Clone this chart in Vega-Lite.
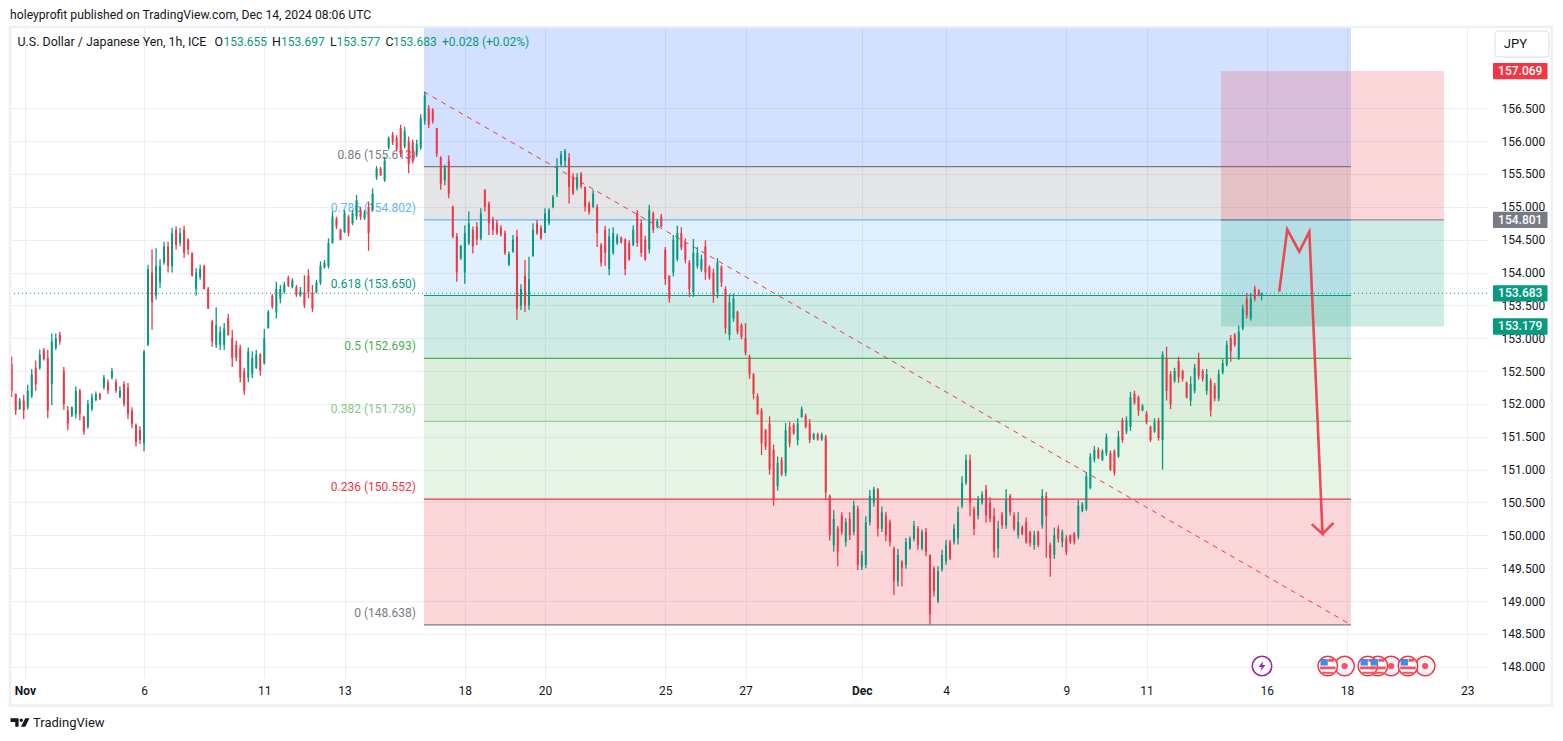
{
"$schema":"https://vega.github.io/schema/vega-lite/v6.json",
"width":1478,"height":651,
"autosize":{"type":"none"},
"padding":{"left":10,"top":27,"right":75,"bottom":63},
"background":"#ffffff",
"title":{"text":"holeyprofit published on TradingView.com, Dec 14, 2024 08:06 UTC","anchor":"start","frame":"group","offset":5,"fontSize":12.2,"fontWeight":"normal","font":"Roboto","color":"#131722"},
"config":{"view":{"stroke":null},"text":{"font":"Roboto"},"axis":{"labelFont":"Roboto"}},
"datasets":{
"fib":[
{"level":"1","t":9.98,"t2":33.1,"p":157.737,"p2":155.613,"label":""},
{"level":"0.86","t":9.98,"t2":33.1,"p":155.613,"p2":154.802,"label":"0.86 (155.613)","lt":9.78},
{"level":"0.786","t":9.98,"t2":33.1,"p":154.802,"p2":153.65,"label":"0.786 (154.802)","lt":9.78},
{"level":"0.618","t":9.98,"t2":33.1,"p":153.65,"p2":152.693,"label":"0.618 (153.650)","lt":9.78},
{"level":"0.5","t":9.98,"t2":33.1,"p":152.693,"p2":151.736,"label":"0.5 (152.693)","lt":9.78},
{"level":"0.382","t":9.98,"t2":33.1,"p":151.736,"p2":150.552,"label":"0.382 (151.736)","lt":9.78},
{"level":"0.236","t":9.98,"t2":33.1,"p":150.552,"p2":148.638,"label":"0.236 (150.552)","lt":9.78},
{"level":"0","t":9.98,"t2":33.1,"p":148.638,"p2":148.638,"label":"0 (148.638)","lt":9.78}
],
"candles":[
{"t":-0.3,"o":152.6,"h":152.72,"l":152.1,"c":152.2},
{"t":-0.2,"o":152.15,"h":152.16,"l":151.83,"c":151.9},
{"t":-0.1,"o":151.92,"h":152.09,"l":151.91,"c":152.05},
{"t":0.0,"o":152.05,"h":152.14,"l":151.77,"c":151.9},
{"t":0.1,"o":151.95,"h":152.29,"l":151.91,"c":152.2},
{"t":0.2,"o":152.12,"h":152.53,"l":152.09,"c":152.45},
{"t":0.3,"o":152.55,"h":152.66,"l":152.2,"c":152.3},
{"t":0.4,"o":152.55,"h":152.83,"l":152.52,"c":152.75},
{"t":0.5,"o":152.82,"h":152.85,"l":152.66,"c":152.68},
{"t":0.6,"o":152.7,"h":152.82,"l":151.78,"c":151.9},
{"t":0.7,"o":152.3,"h":153.07,"l":151.98,"c":152.95},
{"t":0.8,"o":152.85,"h":153.07,"l":152.82,"c":153.0},
{"t":0.9,"o":153.05,"h":153.1,"l":152.9,"c":152.95},
{"t":1.0,"o":152.5,"h":152.56,"l":151.91,"c":152.0},
{"t":1.1,"o":151.9,"h":151.97,"l":151.6,"c":151.7},
{"t":1.2,"o":151.82,"h":151.96,"l":151.8,"c":151.95},
{"t":1.3,"o":151.85,"h":152.27,"l":151.78,"c":152.2},
{"t":1.4,"o":152.2,"h":152.23,"l":151.75,"c":151.85},
{"t":1.5,"o":151.8,"h":151.82,"l":151.53,"c":151.58},
{"t":1.6,"o":151.65,"h":152.06,"l":151.62,"c":152.0},
{"t":1.7,"o":151.92,"h":152.16,"l":151.89,"c":152.1},
{"t":1.8,"o":152.06,"h":152.19,"l":152.04,"c":152.15},
{"t":1.9,"o":152.15,"h":152.17,"l":152.06,"c":152.08},
{"t":2.0,"o":152.25,"h":152.44,"l":152.22,"c":152.4},
{"t":2.1,"o":152.33,"h":152.37,"l":152.15,"c":152.2},
{"t":2.2,"o":152.4,"h":152.55,"l":152.37,"c":152.5},
{"t":2.3,"o":152.33,"h":152.38,"l":152.17,"c":152.2},
{"t":2.4,"o":152.1,"h":152.27,"l":152.09,"c":152.2},
{"t":2.5,"o":152.3,"h":152.34,"l":151.96,"c":152.0},
{"t":2.6,"o":152.25,"h":152.32,"l":151.77,"c":151.85},
{"t":2.7,"o":151.9,"h":151.95,"l":151.63,"c":151.7},
{"t":2.8,"o":151.68,"h":151.7,"l":151.35,"c":151.42},
{"t":2.9,"o":151.6,"h":151.66,"l":151.39,"c":151.45},
{"t":3.0,"o":151.4,"h":152.82,"l":151.28,"c":152.8},
{"t":3.1,"o":152.9,"h":154.12,"l":152.88,"c":154.05},
{"t":3.2,"o":154.0,"h":154.35,"l":153.13,"c":153.55},
{"t":3.3,"o":153.65,"h":154.37,"l":153.59,"c":154.1},
{"t":3.4,"o":153.85,"h":154.2,"l":153.76,"c":154.1},
{"t":3.5,"o":154.15,"h":154.47,"l":154.12,"c":154.4},
{"t":3.6,"o":154.4,"h":154.47,"l":154.0,"c":154.1},
{"t":3.7,"o":154.1,"h":154.68,"l":154.0,"c":154.6},
{"t":3.8,"o":154.65,"h":154.7,"l":154.35,"c":154.42},
{"t":3.9,"o":154.45,"h":154.68,"l":154.4,"c":154.6},
{"t":4.0,"o":154.65,"h":154.71,"l":154.22,"c":154.3},
{"t":4.1,"o":154.5,"h":154.52,"l":154.27,"c":154.35},
{"t":4.2,"o":154.3,"h":154.3,"l":153.94,"c":153.95},
{"t":4.3,"o":153.75,"h":154.07,"l":153.65,"c":154.0},
{"t":4.4,"o":153.93,"h":154.12,"l":153.89,"c":154.05},
{"t":4.5,"o":154.1,"h":154.12,"l":153.74,"c":153.75},
{"t":4.6,"o":153.75,"h":153.78,"l":153.45,"c":153.45},
{"t":4.7,"o":153.25,"h":153.28,"l":152.87,"c":152.95},
{"t":4.8,"o":152.9,"h":153.47,"l":152.85,"c":153.2},
{"t":4.9,"o":152.9,"h":153.18,"l":152.82,"c":153.1},
{"t":5.0,"o":152.9,"h":153.23,"l":152.82,"c":153.15},
{"t":5.1,"o":153.3,"h":153.37,"l":153.04,"c":153.05},
{"t":5.2,"o":153.0,"h":153.13,"l":152.56,"c":152.7},
{"t":5.3,"o":152.9,"h":152.96,"l":152.65,"c":152.7},
{"t":5.4,"o":152.85,"h":152.9,"l":152.33,"c":152.4},
{"t":5.5,"o":152.5,"h":152.55,"l":152.14,"c":152.2},
{"t":5.6,"o":152.4,"h":152.86,"l":152.33,"c":152.8},
{"t":5.7,"o":152.45,"h":152.8,"l":152.39,"c":152.7},
{"t":5.8,"o":152.55,"h":152.82,"l":152.53,"c":152.75},
{"t":5.9,"o":152.75,"h":152.77,"l":152.43,"c":152.5},
{"t":6.0,"o":152.62,"h":153.14,"l":152.6,"c":153.0},
{"t":6.1,"o":153.15,"h":153.43,"l":153.15,"c":153.4},
{"t":6.2,"o":153.65,"h":153.67,"l":153.45,"c":153.48},
{"t":6.3,"o":153.4,"h":153.86,"l":153.3,"c":153.75},
{"t":6.4,"o":153.6,"h":153.81,"l":153.53,"c":153.75},
{"t":6.5,"o":153.7,"h":153.86,"l":153.68,"c":153.82},
{"t":6.6,"o":153.92,"h":153.95,"l":153.78,"c":153.8},
{"t":6.7,"o":153.78,"h":153.91,"l":153.76,"c":153.88},
{"t":6.8,"o":153.78,"h":153.81,"l":153.63,"c":153.66},
{"t":6.9,"o":153.65,"h":153.78,"l":153.63,"c":153.72},
{"t":7.0,"o":153.7,"h":153.96,"l":153.46,"c":153.5},
{"t":7.1,"o":153.95,"h":154.05,"l":153.61,"c":153.7},
{"t":7.2,"o":153.7,"h":153.81,"l":153.4,"c":153.45},
{"t":7.3,"o":153.7,"h":153.89,"l":153.68,"c":153.85},
{"t":7.4,"o":153.85,"h":154.17,"l":153.81,"c":154.1},
{"t":7.5,"o":154.08,"h":154.19,"l":154.06,"c":154.15},
{"t":7.6,"o":154.1,"h":154.52,"l":154.06,"c":154.45},
{"t":7.7,"o":154.45,"h":154.93,"l":154.44,"c":154.85},
{"t":7.8,"o":154.82,"h":154.85,"l":154.66,"c":154.7},
{"t":7.9,"o":154.65,"h":154.67,"l":154.49,"c":154.5},
{"t":8.0,"o":154.62,"h":154.95,"l":154.6,"c":154.9},
{"t":8.1,"o":154.85,"h":154.88,"l":154.55,"c":154.6},
{"t":8.2,"o":154.75,"h":154.95,"l":154.72,"c":154.9},
{"t":8.3,"o":154.85,"h":155.18,"l":154.8,"c":155.1},
{"t":8.4,"o":154.95,"h":155.0,"l":154.8,"c":154.85},
{"t":8.5,"o":154.82,"h":154.95,"l":154.8,"c":154.92},
{"t":8.6,"o":155.0,"h":155.08,"l":154.33,"c":154.6},
{"t":8.7,"o":154.95,"h":155.28,"l":154.93,"c":155.2},
{"t":8.8,"o":155.45,"h":155.62,"l":155.41,"c":155.58},
{"t":8.9,"o":155.58,"h":155.61,"l":155.47,"c":155.48},
{"t":9.0,"o":155.4,"h":155.76,"l":155.38,"c":155.7},
{"t":9.1,"o":155.9,"h":156.07,"l":155.87,"c":156.05},
{"t":9.2,"o":156.1,"h":156.14,"l":155.94,"c":155.98},
{"t":9.3,"o":156.05,"h":156.09,"l":155.84,"c":155.88},
{"t":9.4,"o":156.2,"h":156.25,"l":155.76,"c":155.8},
{"t":9.5,"o":155.92,"h":156.22,"l":155.89,"c":156.15},
{"t":9.6,"o":156.0,"h":156.07,"l":155.51,"c":155.65},
{"t":9.7,"o":155.98,"h":156.02,"l":155.66,"c":155.7},
{"t":9.8,"o":155.8,"h":156.02,"l":155.76,"c":155.95},
{"t":9.9,"o":155.9,"h":156.41,"l":155.87,"c":156.35},
{"t":10.0,"o":156.3,"h":156.75,"l":156.25,"c":156.7},
{"t":10.1,"o":156.5,"h":156.55,"l":156.2,"c":156.25},
{"t":10.2,"o":156.48,"h":156.5,"l":156.27,"c":156.3},
{"t":10.3,"o":156.2,"h":156.2,"l":155.76,"c":155.8},
{"t":10.4,"o":155.75,"h":155.77,"l":155.26,"c":155.35},
{"t":10.5,"o":155.4,"h":155.64,"l":155.33,"c":155.6},
{"t":10.6,"o":155.7,"h":155.78,"l":155.13,"c":155.2},
{"t":10.7,"o":155.0,"h":155.02,"l":154.52,"c":154.55},
{"t":10.8,"o":154.55,"h":154.6,"l":153.86,"c":154.0},
{"t":10.9,"o":154.22,"h":154.42,"l":154.19,"c":154.4},
{"t":11.0,"o":154.0,"h":154.72,"l":153.83,"c":154.6},
{"t":11.1,"o":154.45,"h":154.93,"l":154.42,"c":154.75},
{"t":11.2,"o":154.65,"h":154.7,"l":154.29,"c":154.4},
{"t":11.3,"o":154.7,"h":154.77,"l":154.42,"c":154.5},
{"t":11.4,"o":154.52,"h":154.98,"l":154.49,"c":154.9},
{"t":11.5,"o":155.25,"h":155.27,"l":154.93,"c":155.0},
{"t":11.6,"o":155.05,"h":155.08,"l":154.57,"c":154.75},
{"t":11.7,"o":154.8,"h":154.85,"l":154.57,"c":154.65},
{"t":11.8,"o":154.75,"h":154.8,"l":154.57,"c":154.6},
{"t":11.9,"o":154.68,"h":154.72,"l":154.55,"c":154.58},
{"t":12.0,"o":154.6,"h":154.64,"l":154.27,"c":154.3},
{"t":12.1,"o":154.12,"h":154.32,"l":154.1,"c":154.28},
{"t":12.2,"o":154.32,"h":154.57,"l":154.3,"c":154.5},
{"t":12.3,"o":154.55,"h":154.65,"l":153.28,"c":153.45},
{"t":12.4,"o":153.5,"h":153.82,"l":153.43,"c":153.75},
{"t":12.5,"o":153.95,"h":154.19,"l":153.4,"c":153.5},
{"t":12.6,"o":153.5,"h":154.24,"l":153.43,"c":153.9},
{"t":12.7,"o":154.25,"h":154.75,"l":154.24,"c":154.65},
{"t":12.8,"o":154.75,"h":154.8,"l":154.57,"c":154.6},
{"t":12.9,"o":154.68,"h":154.72,"l":154.5,"c":154.52},
{"t":13.0,"o":154.6,"h":154.98,"l":154.6,"c":154.9},
{"t":13.1,"o":154.75,"h":154.98,"l":154.72,"c":154.95},
{"t":13.2,"o":155.0,"h":155.18,"l":154.98,"c":155.15},
{"t":13.3,"o":155.2,"h":155.74,"l":155.15,"c":155.6},
{"t":13.4,"o":155.65,"h":155.85,"l":155.61,"c":155.8},
{"t":13.5,"o":155.7,"h":155.88,"l":155.61,"c":155.85},
{"t":13.6,"o":155.75,"h":155.82,"l":155.05,"c":155.3},
{"t":13.7,"o":155.45,"h":155.51,"l":155.18,"c":155.2},
{"t":13.8,"o":155.28,"h":155.51,"l":155.25,"c":155.45},
{"t":13.9,"o":155.5,"h":155.53,"l":155.28,"c":155.32},
{"t":14.0,"o":155.3,"h":155.31,"l":154.93,"c":155.0},
{"t":14.1,"o":155.05,"h":155.08,"l":154.88,"c":154.92},
{"t":14.2,"o":155.0,"h":155.26,"l":154.98,"c":155.2},
{"t":14.3,"o":155.0,"h":155.04,"l":154.39,"c":154.6},
{"t":14.4,"o":154.42,"h":154.45,"l":154.09,"c":154.15},
{"t":14.5,"o":154.65,"h":154.71,"l":154.1,"c":154.3},
{"t":14.6,"o":154.05,"h":154.67,"l":153.96,"c":154.55},
{"t":14.7,"o":154.3,"h":154.69,"l":154.27,"c":154.6},
{"t":14.8,"o":154.45,"h":154.59,"l":154.42,"c":154.55},
{"t":14.9,"o":154.53,"h":154.55,"l":154.44,"c":154.46},
{"t":15.0,"o":154.5,"h":154.52,"l":153.96,"c":154.05},
{"t":15.1,"o":154.45,"h":154.49,"l":154.18,"c":154.2},
{"t":15.2,"o":154.42,"h":154.72,"l":154.4,"c":154.65},
{"t":15.3,"o":154.9,"h":154.95,"l":154.39,"c":154.45},
{"t":15.4,"o":154.75,"h":154.81,"l":154.24,"c":154.3},
{"t":15.5,"o":154.5,"h":154.56,"l":154.18,"c":154.2},
{"t":15.6,"o":154.35,"h":155.03,"l":154.29,"c":154.95},
{"t":15.7,"o":154.9,"h":154.93,"l":154.6,"c":154.65},
{"t":15.8,"o":154.7,"h":154.82,"l":154.67,"c":154.78},
{"t":15.9,"o":154.85,"h":154.89,"l":154.69,"c":154.7},
{"t":16.0,"o":154.35,"h":154.39,"l":153.81,"c":153.9},
{"t":16.1,"o":153.95,"h":153.96,"l":153.54,"c":153.6},
{"t":16.2,"o":154.0,"h":154.57,"l":153.94,"c":154.5},
{"t":16.3,"o":154.2,"h":154.71,"l":154.17,"c":154.6},
{"t":16.4,"o":154.6,"h":154.69,"l":154.34,"c":154.38},
{"t":16.5,"o":154.45,"h":154.52,"l":154.14,"c":154.2},
{"t":16.6,"o":154.15,"h":154.19,"l":153.63,"c":153.75},
{"t":16.7,"o":153.7,"h":154.51,"l":153.63,"c":154.3},
{"t":16.8,"o":154.1,"h":154.39,"l":154.06,"c":154.3},
{"t":16.9,"o":154.05,"h":154.27,"l":154.01,"c":154.2},
{"t":17.0,"o":154.4,"h":154.49,"l":153.89,"c":154.0},
{"t":17.1,"o":154.08,"h":154.11,"l":153.89,"c":153.92},
{"t":17.2,"o":154.0,"h":154.06,"l":153.54,"c":153.65},
{"t":17.3,"o":153.7,"h":154.22,"l":153.61,"c":154.15},
{"t":17.4,"o":154.08,"h":154.11,"l":153.78,"c":153.85},
{"t":17.5,"o":153.75,"h":153.79,"l":153.07,"c":153.15},
{"t":17.6,"o":153.05,"h":153.67,"l":152.97,"c":153.55},
{"t":17.7,"o":153.3,"h":153.68,"l":153.25,"c":153.6},
{"t":17.8,"o":153.4,"h":153.42,"l":153.06,"c":153.1},
{"t":17.9,"o":153.2,"h":153.23,"l":152.98,"c":153.02},
{"t":18.0,"o":153.0,"h":153.23,"l":152.74,"c":152.78},
{"t":18.1,"o":152.72,"h":152.75,"l":152.38,"c":152.45},
{"t":18.2,"o":152.45,"h":152.47,"l":152.07,"c":152.15},
{"t":18.3,"o":152.12,"h":152.16,"l":151.83,"c":151.85},
{"t":18.4,"o":151.9,"h":151.94,"l":151.22,"c":151.4},
{"t":18.5,"o":151.6,"h":151.62,"l":151.3,"c":151.35},
{"t":18.6,"o":151.7,"h":151.81,"l":150.92,"c":151.0},
{"t":18.7,"o":151.3,"h":151.38,"l":150.45,"c":150.55},
{"t":18.8,"o":150.75,"h":151.2,"l":150.68,"c":151.1},
{"t":18.9,"o":151.15,"h":151.19,"l":150.9,"c":150.93},
{"t":19.0,"o":150.95,"h":151.71,"l":150.9,"c":151.6},
{"t":19.1,"o":151.65,"h":151.73,"l":151.34,"c":151.4},
{"t":19.2,"o":151.68,"h":151.71,"l":151.53,"c":151.55},
{"t":19.3,"o":151.45,"h":151.78,"l":151.37,"c":151.7},
{"t":19.4,"o":151.8,"h":151.96,"l":151.79,"c":151.92},
{"t":19.5,"o":151.82,"h":151.85,"l":151.63,"c":151.65},
{"t":19.6,"o":151.7,"h":151.77,"l":151.4,"c":151.45},
{"t":19.7,"o":151.47,"h":151.56,"l":151.45,"c":151.54},
{"t":19.8,"o":151.54,"h":151.56,"l":151.44,"c":151.46},
{"t":19.9,"o":151.46,"h":151.56,"l":151.44,"c":151.53},
{"t":20.0,"o":151.5,"h":151.53,"l":150.54,"c":150.65},
{"t":20.1,"o":150.6,"h":150.62,"l":149.92,"c":150.0},
{"t":20.2,"o":149.85,"h":150.38,"l":149.75,"c":150.25},
{"t":20.3,"o":150.1,"h":150.14,"l":149.53,"c":149.75},
{"t":20.4,"o":150.3,"h":150.35,"l":150.01,"c":150.05},
{"t":20.5,"o":149.9,"h":150.26,"l":149.83,"c":150.2},
{"t":20.6,"o":150.25,"h":150.35,"l":149.93,"c":150.0},
{"t":20.7,"o":150.05,"h":150.53,"l":150.0,"c":150.45},
{"t":20.8,"o":150.4,"h":150.45,"l":149.47,"c":149.55},
{"t":20.9,"o":149.52,"h":149.76,"l":149.47,"c":149.7},
{"t":21.0,"o":149.55,"h":150.29,"l":149.5,"c":150.2},
{"t":21.1,"o":150.2,"h":150.69,"l":150.15,"c":150.6},
{"t":21.2,"o":150.5,"h":150.74,"l":150.44,"c":150.7},
{"t":21.3,"o":150.7,"h":150.72,"l":149.98,"c":150.1},
{"t":21.4,"o":150.1,"h":150.44,"l":150.05,"c":150.35},
{"t":21.5,"o":150.3,"h":150.36,"l":149.91,"c":150.0},
{"t":21.6,"o":150.2,"h":150.24,"l":149.83,"c":149.9},
{"t":21.7,"o":149.8,"h":149.83,"l":149.09,"c":149.3},
{"t":21.8,"o":149.3,"h":149.79,"l":149.22,"c":149.7},
{"t":21.9,"o":149.6,"h":149.62,"l":149.22,"c":149.5},
{"t":22.0,"o":149.55,"h":149.96,"l":149.49,"c":149.9},
{"t":22.1,"o":149.8,"h":149.98,"l":149.78,"c":149.95},
{"t":22.2,"o":149.95,"h":150.22,"l":149.91,"c":150.15},
{"t":22.3,"o":150.1,"h":150.14,"l":149.78,"c":149.85},
{"t":22.4,"o":149.8,"h":150.09,"l":149.77,"c":150.05},
{"t":22.5,"o":150.05,"h":150.11,"l":149.68,"c":149.75},
{"t":22.6,"o":149.7,"h":149.71,"l":148.64,"c":148.8},
{"t":22.7,"o":149.5,"h":149.53,"l":149.07,"c":149.15},
{"t":22.8,"o":149.0,"h":149.53,"l":148.97,"c":149.45},
{"t":22.9,"o":149.48,"h":149.78,"l":149.45,"c":149.7},
{"t":23.0,"o":149.6,"h":149.93,"l":149.55,"c":149.85},
{"t":23.1,"o":149.9,"h":149.93,"l":149.62,"c":149.65},
{"t":23.2,"o":149.9,"h":150.17,"l":149.86,"c":150.1},
{"t":23.3,"o":149.95,"h":150.44,"l":149.86,"c":150.35},
{"t":23.4,"o":150.45,"h":150.9,"l":150.41,"c":150.8},
{"t":23.5,"o":150.8,"h":151.23,"l":150.77,"c":151.15},
{"t":23.6,"o":151.15,"h":151.23,"l":150.29,"c":150.5},
{"t":23.7,"o":150.4,"h":150.44,"l":150.0,"c":150.1},
{"t":23.8,"o":150.3,"h":150.6,"l":150.24,"c":150.55},
{"t":23.9,"o":150.5,"h":150.67,"l":150.47,"c":150.62},
{"t":24.0,"o":150.7,"h":150.77,"l":150.19,"c":150.3},
{"t":24.1,"o":150.5,"h":150.58,"l":150.2,"c":150.25},
{"t":24.2,"o":150.3,"h":150.42,"l":149.66,"c":149.75},
{"t":24.3,"o":149.8,"h":150.22,"l":149.66,"c":150.1},
{"t":24.4,"o":150.32,"h":150.36,"l":150.1,"c":150.15},
{"t":24.5,"o":150.15,"h":150.7,"l":150.1,"c":150.55},
{"t":24.6,"o":150.6,"h":150.63,"l":150.3,"c":150.35},
{"t":24.7,"o":150.3,"h":150.35,"l":150.07,"c":150.1},
{"t":24.8,"o":150.0,"h":150.35,"l":149.95,"c":150.2},
{"t":24.9,"o":150.12,"h":150.15,"l":150.0,"c":150.02},
{"t":25.0,"o":150.2,"h":150.27,"l":149.87,"c":149.9},
{"t":25.1,"o":150.05,"h":150.07,"l":149.83,"c":149.88},
{"t":25.2,"o":149.85,"h":150.07,"l":149.78,"c":150.0},
{"t":25.3,"o":150.05,"h":150.07,"l":149.82,"c":149.85},
{"t":25.4,"o":150.15,"h":150.7,"l":150.1,"c":150.6},
{"t":25.5,"o":150.6,"h":150.66,"l":149.66,"c":150.3},
{"t":25.6,"o":149.85,"h":149.89,"l":149.37,"c":149.65},
{"t":25.7,"o":149.7,"h":150.12,"l":149.64,"c":150.0},
{"t":25.8,"o":150.1,"h":150.15,"l":149.89,"c":149.95},
{"t":25.9,"o":149.9,"h":150.09,"l":149.82,"c":150.05},
{"t":26.0,"o":149.95,"h":150.0,"l":149.7,"c":149.75},
{"t":26.1,"o":150.0,"h":150.01,"l":149.87,"c":149.9},
{"t":26.2,"o":150.02,"h":150.05,"l":149.86,"c":149.9},
{"t":26.3,"o":149.98,"h":150.54,"l":149.94,"c":150.45},
{"t":26.4,"o":150.37,"h":150.5,"l":150.35,"c":150.47},
{"t":26.5,"o":150.4,"h":150.96,"l":150.37,"c":150.9},
{"t":26.6,"o":150.72,"h":151.25,"l":150.7,"c":151.2},
{"t":26.7,"o":151.15,"h":151.36,"l":151.11,"c":151.3},
{"t":26.8,"o":151.3,"h":151.34,"l":151.16,"c":151.18},
{"t":26.9,"o":151.15,"h":151.31,"l":151.13,"c":151.28},
{"t":27.0,"o":151.25,"h":151.55,"l":151.21,"c":151.5},
{"t":27.1,"o":151.25,"h":151.29,"l":150.98,"c":151.0},
{"t":27.2,"o":151.28,"h":151.31,"l":150.91,"c":150.95},
{"t":27.3,"o":151.2,"h":151.59,"l":151.18,"c":151.5},
{"t":27.4,"o":151.75,"h":151.79,"l":151.41,"c":151.45},
{"t":27.5,"o":151.58,"h":151.81,"l":151.54,"c":151.75},
{"t":27.6,"o":151.65,"h":152.18,"l":151.59,"c":152.1},
{"t":27.7,"o":152.15,"h":152.2,"l":151.99,"c":152.02},
{"t":27.8,"o":152.1,"h":152.13,"l":151.82,"c":151.9},
{"t":27.9,"o":151.9,"h":152.0,"l":151.89,"c":151.97},
{"t":28.0,"o":151.85,"h":151.89,"l":151.69,"c":151.72},
{"t":28.1,"o":151.65,"h":151.67,"l":151.42,"c":151.45},
{"t":28.2,"o":151.58,"h":151.78,"l":151.56,"c":151.72},
{"t":28.3,"o":151.75,"h":151.79,"l":151.44,"c":151.48},
{"t":28.4,"o":151.45,"h":152.8,"l":151.0,"c":152.75},
{"t":28.5,"o":152.7,"h":152.87,"l":152.05,"c":152.2},
{"t":28.6,"o":152.45,"h":152.5,"l":151.92,"c":152.0},
{"t":28.7,"o":152.35,"h":152.55,"l":152.32,"c":152.5},
{"t":28.8,"o":152.65,"h":152.72,"l":152.32,"c":152.4},
{"t":28.9,"o":152.5,"h":152.52,"l":152.34,"c":152.38},
{"t":29.0,"o":152.32,"h":152.34,"l":152.08,"c":152.1},
{"t":29.1,"o":152.05,"h":152.42,"l":151.97,"c":152.3},
{"t":29.2,"o":152.2,"h":152.61,"l":152.16,"c":152.55},
{"t":29.3,"o":152.7,"h":152.78,"l":152.37,"c":152.42},
{"t":29.4,"o":152.5,"h":152.53,"l":152.34,"c":152.38},
{"t":29.5,"o":152.2,"h":152.53,"l":152.14,"c":152.45},
{"t":29.6,"o":152.35,"h":152.39,"l":151.81,"c":151.9},
{"t":29.7,"o":152.28,"h":152.32,"l":152.04,"c":152.08},
{"t":29.8,"o":152.08,"h":152.52,"l":152.04,"c":152.45},
{"t":29.9,"o":152.48,"h":152.68,"l":152.45,"c":152.62},
{"t":30.0,"o":152.6,"h":152.96,"l":152.57,"c":152.9},
{"t":30.1,"o":153.0,"h":153.05,"l":152.64,"c":152.8},
{"t":30.2,"o":153.05,"h":153.08,"l":152.87,"c":152.9},
{"t":30.3,"o":152.7,"h":153.19,"l":152.67,"c":153.1},
{"t":30.4,"o":153.15,"h":153.51,"l":153.12,"c":153.45},
{"t":30.5,"o":153.6,"h":153.69,"l":153.3,"c":153.35},
{"t":30.6,"o":153.3,"h":153.69,"l":153.27,"c":153.6},
{"t":30.7,"o":153.75,"h":153.8,"l":153.56,"c":153.6},
{"t":30.8,"o":153.72,"h":153.75,"l":153.64,"c":153.65},
{"t":30.87,"o":153.655,"h":153.697,"l":153.577,"c":153.683}
]
},
"encoding":{
"x":{"field":"t","type":"quantitative","title":null,"scale":{"domain":[-0.342,36.516],"nice":false,"zero":false},
"axis":{"values":[0.03,3,6,8,11,13,16,18,20.9,23,26,28,31,33,36],"labelExpr":"({'0.03':'Nov','3':'6','6':'11','8':'13','11':'18','13':'20','16':'25','18':'27','20.9':'Dec','23':'4','26':'9','28':'11','31':'16','33':'18','36':'23'})[datum.value]","labelFontWeight":{"condition":{"test":"datum.value==0.03||datum.value==20.9","value":"bold"},"value":"normal"},"labelFontSize":12,"labelColor":"#131722","labelPadding":7,"labelOverlap":false,"labelFlush":false,"labelBound":false,"domain":false,"ticks":false,"grid":true,"gridColor":"#eceef4","gridWidth":1}},
"y":{"field":"p","type":"quantitative","title":null,"scale":{"domain":[147.828,157.737],"nice":false,"zero":false},
"axis":{"orient":"right","values":[148,148.5,149,149.5,150,150.5,151,151.5,152,152.5,153,153.5,154,154.5,155,155.5,156,156.5],"format":".3f","labelFontSize":12,"labelColor":"#131722","labelPadding":13,"labelOverlap":false,"labelBound":false,"domain":false,"ticks":false,"grid":true,"gridColor":"#eceef4","gridWidth":1}}
},
"layer":[
{"data":{"name":"fib"},"mark":{"type":"rect","fillOpacity":0.2},"encoding":{"x2":{"field":"t2"},"y2":{"field":"p2"},
"color":{"field":"level","type":"nominal","legend":null,"scale":{"domain":["1","0.86","0.786","0.618","0.5","0.382","0.236","0"],"range":["#2962ff","#787b86","#64b5f6","#089981","#4caf50","#81c784","#f23645","#787b86"]}}}},
{"data":{"name":"fib"},"transform":[{"filter":"datum.level!='1'"}],"mark":{"type":"rule","strokeWidth":1.2},"encoding":{"x2":{"field":"t2"},
"color":{"field":"level","type":"nominal","legend":null,"scale":{"domain":["1","0.86","0.786","0.618","0.5","0.382","0.236","0"],"range":["#2962ff","#787b86","#64b5f6","#089981","#4caf50","#81c784","#f23645","#787b86"]}}}},
{"data":{"name":"fib"},"transform":[{"filter":"datum.level!='1'"}],"mark":{"type":"text","align":"right","dy":-12,"fontSize":12},"encoding":{"x":{"field":"lt","type":"quantitative"},"text":{"field":"label"},
"color":{"field":"level","type":"nominal","legend":null,"scale":{"domain":["1","0.86","0.786","0.618","0.5","0.382","0.236","0"],"range":["#2962ff","#787b86","#64b5f6","#089981","#4caf50","#81c784","#f23645","#787b86"]}}}},
{"data":{"values":[{"t":29.86,"t2":35.42,"p":157.069,"p2":154.801}]},"mark":{"type":"rect","color":"#f23645","fillOpacity":0.2},"encoding":{"x2":{"field":"t2"},"y2":{"field":"p2"}}},
{"data":{"values":[{"t":29.86,"t2":35.42,"p":154.801,"p2":153.179}]},"mark":{"type":"rect","color":"#089981","fillOpacity":0.2},"encoding":{"x2":{"field":"t2"},"y2":{"field":"p2"}}},
{"data":{"values":[{"t":29.86,"t2":35.42,"p":154.801}]},"mark":{"type":"rule","color":"#787b86","strokeWidth":1},"encoding":{"x2":{"field":"t2"}}},
{"data":{"values":[{"t":-0.342,"t2":36.516,"p":153.683}]},"mark":{"type":"rule","color":"#089981","strokeWidth":1,"strokeDash":[1,3]},"encoding":{"x2":{"field":"t2"}}},
{"data":{"values":[{"t":9.98,"p":156.75},{"t":33.1,"p":148.638}]},"mark":{"type":"line","color":"#f23645","strokeWidth":1,"strokeDash":[5,5]}},
{"data":{"name":"candles"},"mark":{"type":"rule","strokeWidth":1.3},"encoding":{"y":{"field":"l","type":"quantitative","axis":{"orient":"right","title":null,"values":[148,148.5,149,149.5,150,150.5,151,151.5,152,152.5,153,153.5,154,154.5,155,155.5,156,156.5]},"scale":{"domain":[147.828,157.737],"nice":false,"zero":false}},"y2":{"field":"h"},"color":{"condition":{"test":"datum.c>=datum.o","value":"#089981"},"value":"#f23645"}}},
{"data":{"name":"candles"},"mark":{"type":"rule","strokeWidth":2},"encoding":{"y":{"field":"o","type":"quantitative","axis":{"orient":"right","title":null,"values":[148,148.5,149,149.5,150,150.5,151,151.5,152,152.5,153,153.5,154,154.5,155,155.5,156,156.5]},"scale":{"domain":[147.828,157.737],"nice":false,"zero":false}},"y2":{"field":"c"},"color":{"condition":{"test":"datum.c>=datum.o","value":"#089981"},"value":"#f23645"}}},
{"data":{"values":[{"i":1,"t":31.31,"p":153.708},{"i":2,"t":31.51,"p":154.657},{"i":3,"t":31.81,"p":154.317},{"i":4,"t":32.06,"p":154.621},{"i":5,"t":32.39,"p":150.02},{"i":6,"t":32.12,"p":150.17},{"i":7,"t":32.39,"p":150.02},{"i":8,"t":32.66,"p":150.19}]},"mark":{"type":"line","color":"#f23645","strokeWidth":2.6,"opacity":0.9},"encoding":{"order":{"field":"i"}}},
{"data":{"values":[{"t":30.88,"p":148.01}]},"mark":{"type":"point","filled":true,"size":380,"shape":"circle","fill":"#ffffff","stroke":"#9c27b0","strokeWidth":1.6,"opacity":1}},
{"data":{"values":[{"t":30.88,"p":148.01}]},"mark":{"type":"point","filled":true,"size":380,"shape":"M0.12,-0.5L-0.36,0.1H-0.05L-0.15,0.5L0.36,-0.1H0.05Z","color":"#9c27b0","opacity":1}},
{"data":{"values":[{"t":32.94,"p":148.01},{"t":34.1,"p":148.01},{"t":34.95,"p":148.01}]},"mark":{"type":"point","filled":true,"size":380,"shape":"circle","fill":"#f0f3fa","stroke":"#f23645","strokeWidth":1.5,"opacity":1}},
{"data":{"values":[{"t":32.94,"p":148.01},{"t":34.1,"p":148.01},{"t":34.95,"p":148.01}]},"mark":{"type":"point","filled":true,"size":40,"shape":"circle","color":"#f7525f","opacity":1}},
{"data":{"values":[{"t":33.77,"p":148.01},{"t":32.52,"p":148.01},{"t":33.52,"p":148.01},{"t":34.52,"p":148.01}]},"mark":{"type":"point","filled":true,"size":380,"shape":"circle","fill":"#ffffff","stroke":"#f23645","strokeWidth":1.5,"opacity":1}},
{"data":{"values":[{"t":33.77,"p":148.01},{"t":32.52,"p":148.01},{"t":33.52,"p":148.01},{"t":34.52,"p":148.01}]},"mark":{"type":"point","filled":true,"size":380,"shape":"M0.05,-0.72H0.65V-0.45H0.05ZM-0.8,0.05H0.8V0.32H-0.8ZM-0.6,0.58H0.6V0.8H-0.6Z","color":"#f7525f","opacity":1}},
{"data":{"values":[{"t":33.77,"p":148.01},{"t":32.52,"p":148.01},{"t":33.52,"p":148.01},{"t":34.52,"p":148.01}]},"mark":{"type":"point","filled":true,"size":380,"shape":"M-0.75,-0.72H0V-0.05H-0.75Z","color":"#3d8ee8","opacity":1}},
{"data":{"values":[{"t":-0.342,"t2":38.11,"p":157.737,"p2":147.41}]},"mark":{"type":"rect","fillOpacity":0,"stroke":"#eef0f6","strokeWidth":2.5},"encoding":{"x2":{"field":"t2"},"y2":{"field":"p2"}}},
{"data":{"values":[{"t":36.69,"t2":38.04,"p":157.675,"p2":157.28}]},"mark":{"type":"rect","fill":"#ffffff","stroke":"#e6e8f0","strokeWidth":1.5,"cornerRadius":4},"encoding":{"x2":{"field":"t2"},"y2":{"field":"p2"}}},
{"data":{"values":[{"t":36.64,"t2":38.0,"p":157.19,"p2":156.94,"kind":"stop"},{"t":36.64,"t2":38.0,"p":154.926,"p2":154.676,"kind":"entry"},{"t":36.64,"t2":38.0,"p":153.808,"p2":153.558,"kind":"last"},{"t":36.64,"t2":38.0,"p":153.304,"p2":153.054,"kind":"target"}]},"mark":{"type":"rect","cornerRadius":1},"encoding":{"x2":{"field":"t2"},"y2":{"field":"p2"},"color":{"condition":[{"test":"datum.kind=='stop'","value":"#f23645"},{"test":"datum.kind=='entry'","value":"#787b86"}],"value":"#089981"}}},
{"data":{"values":[{"t":37.32,"p":157.069,"label":"157.069"},{"t":37.32,"p":154.801,"label":"154.801"},{"t":37.32,"p":153.683,"label":"153.683"},{"t":37.32,"p":153.179,"label":"153.179"}]},"mark":{"type":"text","color":"#ffffff","fontSize":12,"fontWeight":500},"encoding":{"text":{"field":"label"}}},
{"data":{"values":[{"t":-0.155,"p":157.513,"label":"U.S. Dollar / Japanese Yen, 1h, ICE"},{"t":4.758,"p":157.513,"label":"O"},{"t":6.19,"p":157.513,"label":"H"},{"t":7.638,"p":157.513,"label":"L"},{"t":9.02,"p":157.513,"label":"C"}]},"mark":{"type":"text","align":"left","color":"#131722","fontSize":12.4},"encoding":{"text":{"field":"label"}}},
{"data":{"values":[{"t":36.91,"p":157.478,"label":"JPY"},{"t":0.232,"p":147.143,"label":"TradingView"}]},"mark":{"type":"text","align":"left","color":"#131722","fontSize":13},"encoding":{"text":{"field":"label"}}},
{"data":{"values":[{"t":4.98,"p":157.513,"label":"153.655"},{"t":6.416,"p":157.513,"label":"153.697"},{"t":7.8,"p":157.513,"label":"153.577"},{"t":9.21,"p":157.513,"label":"153.683"},{"t":10.43,"p":157.513,"label":"+0.028 (+0.02%)"}]},"mark":{"type":"text","align":"left","color":"#089981","fontSize":12},"encoding":{"text":{"field":"label"}}},
{"data":{"values":[{"t":-0.092,"p":147.15}]},"mark":{"type":"point","filled":true,"size":361,"shape":"M-1,-0.45H-0.15V0.45H-0.5V-0.05H-1ZM0.55,-0.45H1L0.55,0.45H0.1ZM-0.05,-0.25A0.18,0.18,0,1,0,0.31,-0.25A0.18,0.18,0,1,0,-0.05,-0.25Z","color":"#131722","opacity":1}}
]
}
